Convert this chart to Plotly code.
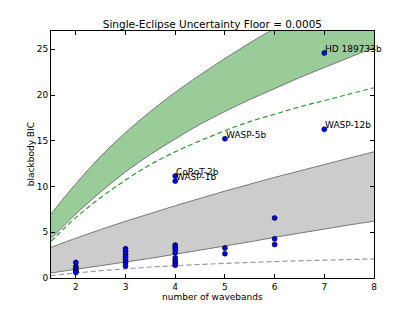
import plotly.graph_objects as go

# curve sample positions (number of wavebands)
x_curve = [1.5, 2, 2.5, 3, 3.5, 4, 4.5, 5, 5.5, 6, 6.5, 7, 7.5, 8]
green_upper = [7.0, 10.3, 13.3, 15.9, 18.2, 20.3, 22.2, 24.0, 25.7, 27.3, 28.9, 30.4, 31.9, 33.3]
green_lower = [4.3, 7.0, 9.4, 11.6, 13.5, 15.2, 16.8, 18.2, 19.5, 20.7, 21.9, 23.0, 24.1, 25.2]
green_dashed = [4.0, 6.6, 8.8, 10.7, 12.4, 13.8, 15.0, 16.1, 17.1, 17.9, 18.7, 19.4, 20.1, 20.8]
gray_upper = [3.35, 4.35, 5.3, 6.2, 7.05, 7.9, 8.7, 9.5, 10.25, 11.0, 11.7, 12.4, 13.1, 13.8]
gray_lower = [0.55, 0.95, 1.35, 1.75, 2.15, 2.6, 3.05, 3.5, 3.95, 4.45, 4.9, 5.35, 5.8, 6.2]
gray_dashed = [0.27, 0.55, 0.8, 1.0, 1.2, 1.35, 1.48, 1.6, 1.7, 1.8, 1.88, 1.95, 2.02, 2.08]

# unlabeled planets
pts_x = [2, 2, 2, 2, 2, 2,
         3, 3, 3, 3, 3, 3, 3,
         4, 4, 4, 4, 4, 4, 4, 4,
         5, 5,
         6, 6, 6]
pts_y = [1.7, 1.25, 1.05, 0.9, 0.75, 0.6,
         3.2, 2.9, 2.6, 2.3, 2.0, 1.7, 1.3,
         3.6, 3.35, 3.1, 2.75, 2.2, 1.9, 1.65, 1.4,
         3.28, 2.66,
         6.56, 4.28, 3.67]

# labeled planets
lab_names = ["HD 189733b", "WASP-12b", "WASP-5b", "CoRoT-2b", "WASP-1b"]
lab_x = [7, 7, 5, 4, 4]
lab_y = [24.6, 16.26, 15.22, 11.15, 10.6]

x_ticks = [2, 3, 4, 5, 6, 7, 8]
y_ticks = [0, 5, 10, 15, 20, 25]

FONT = "DejaVu Sans"
edge = "#777777"

fig = go.Figure()
# gray band
fig.add_trace(go.Scatter(x=x_curve, y=gray_lower, mode="lines",
                         line=dict(color=edge, width=1, shape="spline"), showlegend=False))
fig.add_trace(go.Scatter(x=x_curve, y=gray_upper, mode="lines", fill="tonexty",
                         fillcolor="#cccccc",
                         line=dict(color=edge, width=1, shape="spline"), showlegend=False))
# green band
fig.add_trace(go.Scatter(x=x_curve, y=green_lower, mode="lines",
                         line=dict(color=edge, width=1, shape="spline"), showlegend=False))
fig.add_trace(go.Scatter(x=x_curve, y=green_upper, mode="lines", fill="tonexty",
                         fillcolor="#99cc99",
                         line=dict(color=edge, width=1, shape="spline"), showlegend=False))
# dashed lines
fig.add_trace(go.Scatter(x=x_curve, y=green_dashed, mode="lines",
                         line=dict(color="#2a9a2a", width=1.2, dash="5px,3px", shape="spline"),
                         showlegend=False))
fig.add_trace(go.Scatter(x=x_curve, y=gray_dashed, mode="lines",
                         line=dict(color="#999999", width=1.2, dash="5px,3px", shape="spline"),
                         showlegend=False))
# points
fig.add_trace(go.Scatter(x=pts_x + lab_x, y=pts_y + lab_y, mode="markers",
                         marker=dict(color="#0000ff", size=5, line=dict(color="black", width=0.6)),
                         showlegend=False))

for n, xx, yy in zip(lab_names, lab_x, lab_y):
    fig.add_annotation(x=xx, y=yy, xref="x", yref="y", text=n, showarrow=False,
                       xanchor="left", yanchor="bottom", yshift=-3, xshift=-1,
                       font=dict(family=FONT, size=9, color="black"))

fig.add_annotation(x=0.5, y=-0.0763, xref="paper", yref="paper", text="number of wavebands",
                   showarrow=False, xanchor="center", yanchor="middle",
                   font=dict(family=FONT, size=9, color="black"))
fig.add_annotation(x=-0.063, y=0.5, xref="paper", yref="paper", text="blackbody BIC",
                   showarrow=False, xanchor="center", yanchor="middle", textangle=-90,
                   font=dict(family=FONT, size=9, color="black"))

axis_common = dict(showline=True, linecolor="black", linewidth=1, mirror="allticks",
                   ticks="inside", ticklen=4, tickcolor="black", showgrid=False,
                   zeroline=False, tickfont=dict(family=FONT, size=9, color="black"))

# the page body adds an 8px margin; size the figure so it fits the 415x312 window
fig.update_layout(
    width=399, height=296,
    margin=dict(l=43, r=33, t=23, b=24),
    paper_bgcolor="white", plot_bgcolor="white",
    title=dict(text="Single-Eclipse Uncertainty Floor = 0.0005", x=0.5123, xanchor="center",
               y=1 - 16.5 / 296, yanchor="middle", yref="container",
               font=dict(family=FONT, size=10.5, color="black")),
    xaxis=dict(range=[1.5, 8], tickvals=x_ticks, **axis_common),
    yaxis=dict(range=[0, 27], tickvals=y_ticks, **axis_common),
)

fig.write_html("out.html")
